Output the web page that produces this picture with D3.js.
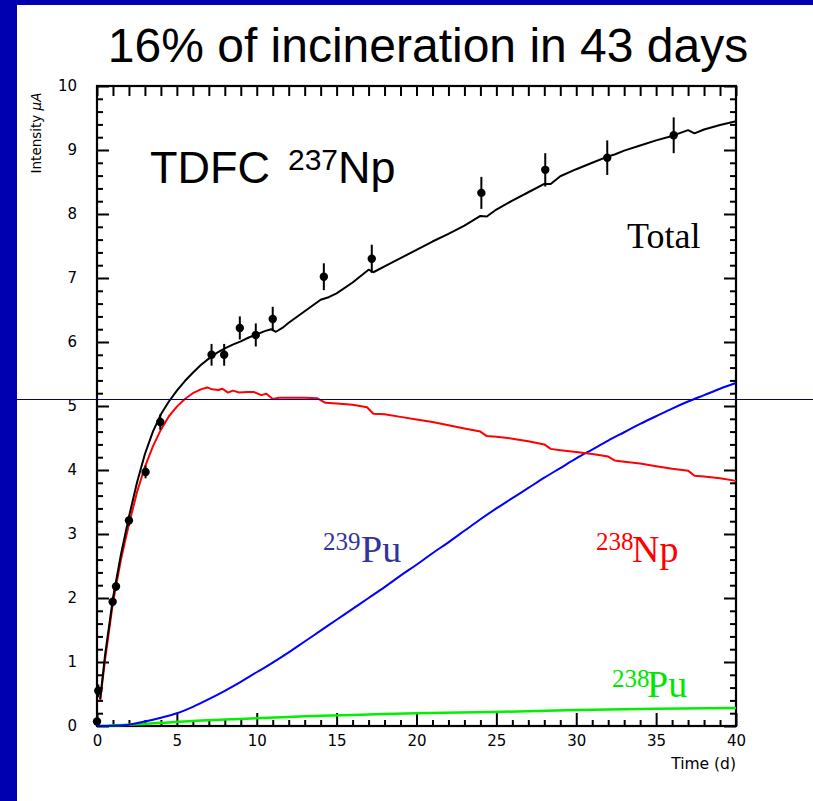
<!DOCTYPE html>
<html>
<head>
<meta charset="utf-8">
<script src="https://cdn.jsdelivr.net/npm/d3@7"></script>
<style>
  body { margin: 0; background: #fff; }
  svg { display: block; }
</style>
</head>
<body>
<script>
// ---- Measured intensities (µA) of the 237Np target, with errors ----
const measTime  = [0.0, 0.08, 0.98, 1.19, 2.0, 3.04, 3.96, 7.17, 7.96, 8.94, 9.94, 11.0, 14.2, 17.2, 24.06, 28.06, 31.94, 36.1];
const measValue = [0.07, 0.55, 1.94, 2.18, 3.21, 3.97, 4.75, 5.80, 5.80, 6.22, 6.11, 6.36, 7.02, 7.30, 8.33, 8.69, 8.88, 9.23];
const measError = [0.04, 0.10, 0.07, 0.07, 0.08, 0.10, 0.12, 0.17, 0.17, 0.18, 0.18, 0.19, 0.21, 0.22, 0.25, 0.26, 0.27, 0.28];

// ---- Simulated curves: [time (d), intensity (µA)] ----
const totalCurve = [[0.2,0.42],[0.5,1.1],[1,2.0],[1.5,2.68],[2,3.27],[2.5,3.8],[3,4.25],[3.5,4.6],[4,4.87],[4.5,5.07],[5,5.24],[5.5,5.39],[6,5.52],[6.5,5.64],[7,5.74],[7.5,5.83],[8,5.9],[8.5,5.96],[9,6.01],[9.5,6.07],[10,6.12],[10.5,6.17],[10.9,6.2],[11.2,6.16],[11.6,6.22],[12,6.3],[13,6.48],[14,6.66],[14.5,6.7],[15,6.76],[16,6.93],[17,7.13],[17.3,7.09],[18,7.18],[19,7.31],[20,7.44],[21,7.57],[22,7.69],[23,7.82],[24,7.97],[24.4,7.96],[25,8.07],[26,8.21],[27,8.34],[28,8.47],[28.4,8.47],[29,8.59],[30,8.7],[31,8.8],[32,8.9],[32.4,8.93],[33,8.99],[34,9.07],[35,9.15],[36,9.22],[37,9.31],[37.4,9.26],[38,9.32],[39,9.39],[40,9.45]];

const np238Curve = [[0.2,0.4],[0.5,1.03],[1,1.93],[1.5,2.6],[2,3.15],[2.5,3.65],[3,4.05],[3.5,4.37],[4,4.63],[4.5,4.84],[5,4.99],[5.5,5.11],[6,5.2],[6.5,5.26],[6.9,5.29],[7.2,5.26],[7.6,5.25],[7.85,5.27],[8.2,5.21],[8.5,5.24],[8.9,5.21],[9.4,5.22],[9.8,5.22],[10.3,5.17],[10.6,5.19],[11,5.11],[11.4,5.13],[12,5.13],[13,5.13],[13.8,5.12],[14.3,5.05],[15,5.04],[16,5.02],[16.9,4.98],[17.3,4.88],[18,4.87],[19,4.83],[20,4.79],[21,4.75],[22,4.7],[23,4.65],[24,4.6],[24.4,4.53],[25,4.52],[26,4.49],[27,4.45],[28,4.4],[28.4,4.33],[29,4.31],[30,4.28],[31,4.25],[32,4.21],[32.4,4.15],[33,4.13],[34,4.1],[35,4.06],[36,4.02],[37,3.99],[37.4,3.91],[38,3.9],[39,3.87],[40,3.83]];

const pu239Curve = [[0,0],[1,0.005],[2,0.02],[3,0.07],[4,0.13],[5,0.2],[6,0.3],[7,0.42],[8,0.55],[9,0.69],[10,0.84],[11,0.99],[12,1.15],[13,1.32],[14,1.49],[15,1.66],[16,1.83],[17,2.0],[18,2.17],[19,2.35],[20,2.52],[21,2.7],[22,2.87],[23,3.05],[24,3.23],[25,3.4],[26,3.56],[27,3.72],[28,3.88],[29,4.03],[30,4.18],[31,4.32],[32,4.46],[33,4.59],[34,4.72],[35,4.84],[36,4.96],[37,5.07],[38,5.17],[39,5.27],[40,5.36]];

const pu238Curve = [[0,0],[2,0.02],[4,0.05],[6,0.08],[8,0.1],[10,0.12],[12,0.14],[14,0.16],[17,0.18],[20,0.2],[25,0.22],[30,0.25],[35,0.27],[40,0.28]];

// ---- Axis ticks ----
const xMajorTicks = [0, 5, 10, 15, 20, 25, 30, 35, 40];
const yMajorTicks = [0, 1, 2, 3, 4, 5, 6, 7, 8, 9, 10];

const W = 813, H = 801;
const plotL = 97, plotR = 736, plotT = 86, plotB = 726;

const svg = d3.select("body").append("svg")
  .attr("width", W).attr("height", H)
  .attr("viewBox", `0 0 ${W} ${H}`);

svg.append("rect").attr("width", W).attr("height", H).attr("fill", "#fff");

const x = d3.scaleLinear().domain([0, 40]).range([plotL, plotR]);
const y = d3.scaleLinear().domain([0, 10]).range([plotB, plotT]);

const tickFont = "'DejaVu Sans', sans-serif";

// minor tick values
const xMinor = d3.range(0, 41).filter(v => v % 5 !== 0);
const yMinor = d3.range(0, 50).map(i => i / 5).filter(v => Math.abs(v - Math.round(v)) > 1e-6);

function styleAxis(g) {
  g.select(".domain").remove();
  g.selectAll(".tick line").attr("stroke", "#000").attr("stroke-width", 2);
  g.selectAll(".tick text").attr("font-family", tickFont).attr("font-size", 15).attr("fill", "#000");
}

// bottom axis (ticks point inward)
svg.append("g").attr("transform", `translate(0,${plotB})`)
  .call(d3.axisBottom(x).tickValues(xMajorTicks).tickSizeInner(-13).tickSizeOuter(0).tickPadding(9).tickFormat(d3.format("d")))
  .call(styleAxis);
svg.append("g").attr("transform", `translate(0,${plotB})`)
  .call(d3.axisBottom(x).tickValues(xMinor).tickSizeInner(-6).tickSizeOuter(0).tickFormat(""))
  .call(styleAxis);

// top axis
svg.append("g").attr("transform", `translate(0,${plotT})`)
  .call(d3.axisTop(x).tickValues(d3.range(0, 41)).tickSizeInner(-10).tickSizeOuter(0).tickFormat(""))
  .call(styleAxis);

// left axis
svg.append("g").attr("transform", `translate(${plotL},0)`)
  .call(d3.axisLeft(y).tickValues(yMajorTicks).tickSizeInner(-12).tickSizeOuter(0).tickPadding(20).tickFormat(d3.format("d")))
  .call(styleAxis);
svg.append("g").attr("transform", `translate(${plotL},0)`)
  .call(d3.axisLeft(y).tickValues(yMinor).tickSizeInner(-6).tickSizeOuter(0).tickFormat(""))
  .call(styleAxis);

// right axis
svg.append("g").attr("transform", `translate(${plotR},0)`)
  .call(d3.axisRight(y).tickValues(yMajorTicks).tickSizeInner(-12).tickSizeOuter(0).tickFormat(""))
  .call(styleAxis);
svg.append("g").attr("transform", `translate(${plotR},0)`)
  .call(d3.axisRight(y).tickValues(yMinor).tickSizeInner(-6).tickSizeOuter(0).tickFormat(""))
  .call(styleAxis);

// frame
svg.append("rect")
  .attr("x", plotL).attr("y", plotT)
  .attr("width", plotR - plotL).attr("height", plotB - plotT)
  .attr("fill", "none").attr("stroke", "#000").attr("stroke-width", 2.2);

// curves
const line = d3.line().x(d => x(d[0])).y(d => y(d[1]));
const smooth = d3.line().x(d => x(d[0])).y(d => y(d[1])).curve(d3.curveMonotoneX);

svg.append("path").datum(pu238Curve).attr("d", smooth)
  .attr("fill", "none").attr("stroke", "#00f000").attr("stroke-width", 2.5);
svg.append("path").datum(pu239Curve).attr("d", smooth)
  .attr("fill", "none").attr("stroke", "#0000ff").attr("stroke-width", 2);
svg.append("path").datum(np238Curve).attr("d", line)
  .attr("fill", "none").attr("stroke", "#ff0000").attr("stroke-width", 2).attr("stroke-linejoin", "round");
svg.append("path").datum(totalCurve).attr("d", line)
  .attr("fill", "none").attr("stroke", "#000").attr("stroke-width", 2).attr("stroke-linejoin", "round");

// measured points with error bars
const meas = measTime.map((t, i) => ({ t, v: measValue[i], e: measError[i] }));
const pts = svg.append("g");
pts.selectAll("line").data(meas).join("line")
  .attr("x1", d => x(d.t)).attr("x2", d => x(d.t))
  .attr("y1", d => y(d.v - d.e)).attr("y2", d => y(d.v + d.e))
  .attr("stroke", "#000").attr("stroke-width", 2);
pts.selectAll("circle").data(meas).join("circle")
  .attr("cx", d => x(d.t)).attr("cy", d => y(d.v)).attr("r", 4.2)
  .attr("fill", "#000");

// axis titles
svg.append("text")
  .attr("transform", `translate(41,133) rotate(-90)`)
  .attr("text-anchor", "middle")
  .attr("font-family", tickFont).attr("font-size", 13.5).attr("fill", "#000")
  .text("Intensity ")
  .append("tspan").attr("font-style", "italic").text("μA");

svg.append("text")
  .attr("x", plotR).attr("y", 769)
  .attr("text-anchor", "end")
  .attr("font-family", tickFont).attr("font-size", 15.5).attr("fill", "#000")
  .text("Time (d)");

// title
svg.append("text")
  .attr("x", 428).attr("y", 62)
  .attr("text-anchor", "middle")
  .attr("font-family", "'Liberation Sans', Arial, sans-serif")
  .attr("font-size", 48).attr("fill", "#000")
  .text("16% of incineration in 43 days");

// labelled text with a superscript mass number
function isotope(xSup, ySup, xMain, yMain, sup, main, supSize, mainSize, family, color) {
  const t = svg.append("text").attr("font-family", family).attr("fill", color);
  t.append("tspan").attr("x", xSup).attr("y", ySup).attr("font-size", supSize).text(sup);
  t.append("tspan").attr("x", xMain).attr("y", yMain).attr("font-size", mainSize).text(main);
}

const sans = "'Liberation Sans', Arial, sans-serif";
const serif = "'Liberation Serif', 'Times New Roman', serif";

svg.append("text").attr("x", 150).attr("y", 183)
  .attr("font-family", sans).attr("font-size", 45).attr("fill", "#000").text("TDFC");
isotope(288, 170, 338, 183, "237", "Np", 30, 45, sans, "#000");

svg.append("text").attr("x", 627).attr("y", 248)
  .attr("font-family", serif).attr("font-size", 36).attr("fill", "#000").text("Total");

isotope(323, 550, 361, 562, "239", "Pu", 25, 38, serif, "#333399");
isotope(596, 550, 632, 562, "238", "Np", 25, 38, serif, "#ff0000");
isotope(612, 687, 647, 697, "238", "Pu", 25, 38, serif, "#00e600");

// horizontal rule across the slide
svg.append("line").attr("x1", 0).attr("x2", W).attr("y1", 399.5).attr("y2", 399.5)
  .attr("stroke", "#00008b").attr("stroke-width", 1);

// slide border
svg.append("rect").attr("x", 0).attr("y", 0).attr("width", 17).attr("height", H).attr("fill", "#0000b0");
svg.append("rect").attr("x", 0).attr("y", 0).attr("width", W).attr("height", 5).attr("fill", "#0000b0");
</script>
</body>
</html>
